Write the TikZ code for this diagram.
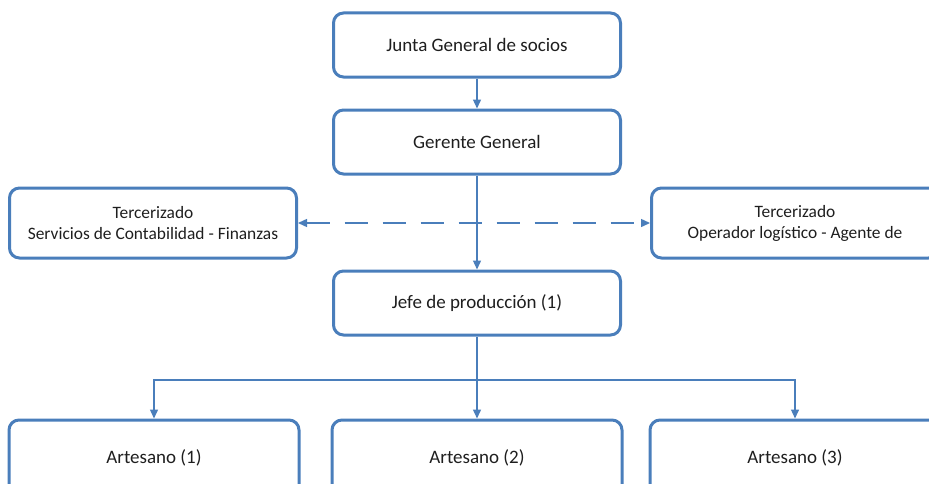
\documentclass[tikz,border=0pt]{standalone}
\usepackage{fontspec}
\setmainfont{Carlito}
\usetikzlibrary{arrows.meta}
\definecolor{boxblue}{HTML}{4A7EBB}
\definecolor{txtgray}{HTML}{1E1E1E}
\tikzset{
  box/.style={draw=boxblue, line width=1.5pt, rounded corners=5pt, rectangle,
    minimum width=143.5pt, minimum height=32pt, align=center, text=txtgray,
    font=\fontsize{9.5}{11}\selectfont},
  sidebox/.style={box, minimum height=35pt, font=\fontsize{8.7}{10.5}\selectfont},
  artbox/.style={box, minimum width=145pt, minimum height=38pt},
  link/.style={draw=boxblue, line width=0.7pt, -{Triangle[length=4.5pt,width=4pt]}},
}
\begin{document}
\begin{tikzpicture}[x=0.5pt, y=0.5pt, node distance=48.5pt]
\useasboundingbox (0,0) rectangle (929,483);
\node[box] (junta) at (477,438) {Junta General de socios};
\node[box, below of=junta] (gerente) {Gerente General};
\node[box, below of=gerente, node distance=80.5pt] (jefe) {Jefe de producción (1)};

\coordinate[below of=gerente, node distance=40.5pt] (mid);
\node[sidebox, left of=mid, node distance=162pt] (contab) {Tercerizado\\Servicios de Contabilidad - Finanzas};
\node[sidebox, right of=mid, node distance=159pt] (logist) {Tercerizado\\Operador logístico - Agente de};

\node[artbox, below of=jefe, node distance=77.5pt] (art2) {Artesano (2)};
\node[artbox, left of=art2, node distance=161.5pt] (art1) {Artesano (1)};
\node[artbox, right of=art2, node distance=159pt] (art3) {Artesano (3)};
\coordinate[below of=jefe, node distance=38.5pt] (split);

\draw[link] (junta) -- (gerente);
\draw[link] (gerente) -- (jefe);
\draw[link, {Triangle[length=4.5pt,width=4pt]}-{Triangle[length=4.5pt,width=4pt]}, dash pattern=on 11.5pt off 7.5pt] (contab) -- (logist);

\draw[link] (jefe) -- (art2);
\draw[link] (split) -| (art1.north);
\draw[link] (split) -| (art3.north);
\end{tikzpicture}
\end{document}
